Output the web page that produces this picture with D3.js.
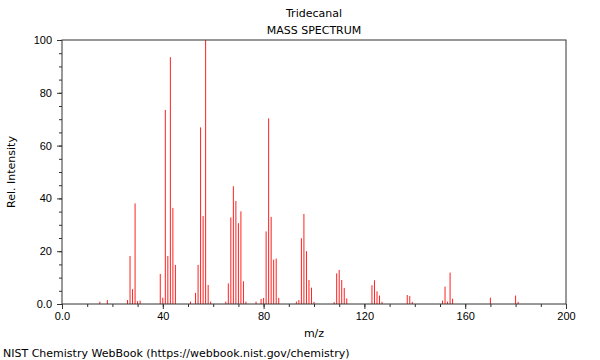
<!DOCTYPE html>
<html>
<head>
<meta charset="utf-8">
<script src="https://cdn.jsdelivr.net/npm/d3@7"></script>
<style>
  body { margin: 0; background: #fff; }
  svg { font-family: "DejaVu Sans", sans-serif; }
</style>
</head>
<body>
<svg id="chart" width="600" height="360"></svg>
<script>
'use strict';

let title = "Tridecanal";
let subtitle = "MASS SPECTRUM";
let footer = "NIST Chemistry WebBook (https://webbook.nist.gov/chemistry)";

// m/z values and relative intensities
let mzValues = [15, 18, 26, 27, 28, 29, 30, 31, 39, 40, 41, 42, 43, 44, 45,
    51, 53, 54, 55, 56, 57, 58, 59, 65, 66, 67, 68, 69, 70, 71, 72, 73,
    77, 79, 80, 81, 82, 83, 84, 85, 86, 93, 94, 95, 96, 97, 98, 99, 100,
    108, 109, 110, 111, 112, 113, 123, 124, 125, 126, 127, 137, 138, 139,
    151, 152, 153, 154, 155, 170, 180, 181];
let intensities = [0.9, 1.5, 1.5, 18.2, 5.6, 38.1, 1.1, 1.3, 11.4, 2.4, 73.5, 18.2, 93.5, 36.4, 14.8,
    0.9, 4.2, 14.8, 66.9, 33.3, 100, 7.2, 0.9, 0.9, 7.8, 32.8, 44.6, 39.0, 30.6, 35.1, 8.6, 0.9,
    0.9, 1.9, 2.3, 27.5, 70.3, 33.0, 16.8, 17.2, 2.3, 0.9, 1.5, 24.9, 34.1, 20.0, 9.1, 6.2, 0.8,
    0.7, 11.6, 12.9, 9.1, 6.1, 2.1, 7.1, 9.0, 4.8, 3.2, 0.8, 3.4, 3.0, 0.8,
    1.3, 6.6, 0.9, 11.9, 2.0, 2.4, 3.2, 0.8];

let xTicks = [0, 40, 80, 120, 160, 200];
let yTicks = [0, 20, 40, 60, 80, 100];

function getChartConfig() {
    let margin = { top: 40, right: 34, bottom: 56, left: 62 },
        width = 600 - margin.left - margin.right,
        height = 360 - margin.top - margin.bottom;
    let svg = d3.select("#chart");
    let container = svg.append("g")
        .attr("transform", "translate(" + margin.left + "," + margin.top + ")");
    return { svg, width, height, container, margin };
}

function getScales(config) {
    let { width, height } = config;
    let xScale = d3.scaleLinear().domain([0, 200]).range([0, width]);
    let yScale = d3.scaleLinear().domain([0, 100]).range([height, 0]);
    return { xScale, yScale };
}

function fmt(d) { return d === 0 ? "0.0" : d; }

function drawAxes(config, scales) {
    let { container, width, height, margin, svg } = config;
    let { xScale, yScale } = scales;

    // minor ticks
    container.append("g")
        .attr("transform", "translate(0," + height + ")")
        .call(d3.axisBottom(xScale).tickValues(d3.range(0, 201, 10)).tickSize(3).tickFormat(""))
        .call(g => g.select(".domain").remove());
    container.append("g")
        .call(d3.axisLeft(yScale).tickValues(d3.range(0, 101, 5)).tickSize(3).tickFormat(""))
        .call(g => g.select(".domain").remove());

    container.append("g")
        .attr("class", "x axis")
        .attr("transform", "translate(0," + height + ")")
        .style("font-size", "11px")
        .call(d3.axisBottom(xScale).tickValues(xTicks).tickSize(5).tickPadding(3).tickFormat(fmt))
        .call(g => g.select(".domain").remove());

    container.append("g")
        .attr("class", "y axis")
        .style("font-size", "11px")
        .call(d3.axisLeft(yScale).tickValues(yTicks).tickSize(5).tickPadding(5).tickFormat(fmt))
        .call(g => g.select(".domain").remove());

    container.selectAll(".tick text").attr("fill", "#000");
    container.selectAll(".tick line").attr("stroke", "#333");

    container.append("rect")
        .attr("x", 0).attr("y", 0)
        .attr("width", width).attr("height", height)
        .attr("fill", "none")
        .attr("stroke", "#333")
        .attr("stroke-width", 1);

    container.append("text")
        .attr("x", width / 2)
        .attr("y", height + 33)
        .style("text-anchor", "middle")
        .style("font-size", "11px")
        .text("m/z");

    container.append("text")
        .attr("transform", "rotate(-90)")
        .attr("x", -height / 2)
        .attr("y", -margin.left + 15)
        .style("text-anchor", "middle")
        .style("font-size", "11px")
        .text("Rel. Intensity");

    svg.append("text")
        .attr("x", margin.left + width / 2)
        .attr("y", 17)
        .style("text-anchor", "middle")
        .style("font-size", "11px")
        .text(title);

    svg.append("text")
        .attr("x", margin.left + width / 2)
        .attr("y", 34)
        .style("text-anchor", "middle")
        .style("font-size", "11px")
        .text(subtitle);

    svg.append("text")
        .attr("x", 3)
        .attr("y", 357)
        .style("font-size", "11px")
        .text(footer);
}

function drawPeaks(config, scales) {
    let { container } = config;
    let { xScale, yScale } = scales;
    let peaks = mzValues.map((mz, i) => ({ mz, val: intensities[i] }));

    container.append("g")
        .selectAll("line")
        .data(peaks)
        .enter()
        .append("line")
        .attr("x1", d => xScale(d.mz))
        .attr("x2", d => xScale(d.mz))
        .attr("y1", yScale(0))
        .attr("y2", d => yScale(d.val))
        .attr("stroke", "#ff2020")
        .attr("stroke-width", 1);
}

function drawChart() {
    let config = getChartConfig();
    let scales = getScales(config);
    drawPeaks(config, scales);
    drawAxes(config, scales);
}

drawChart();
</script>
</body>
</html>
